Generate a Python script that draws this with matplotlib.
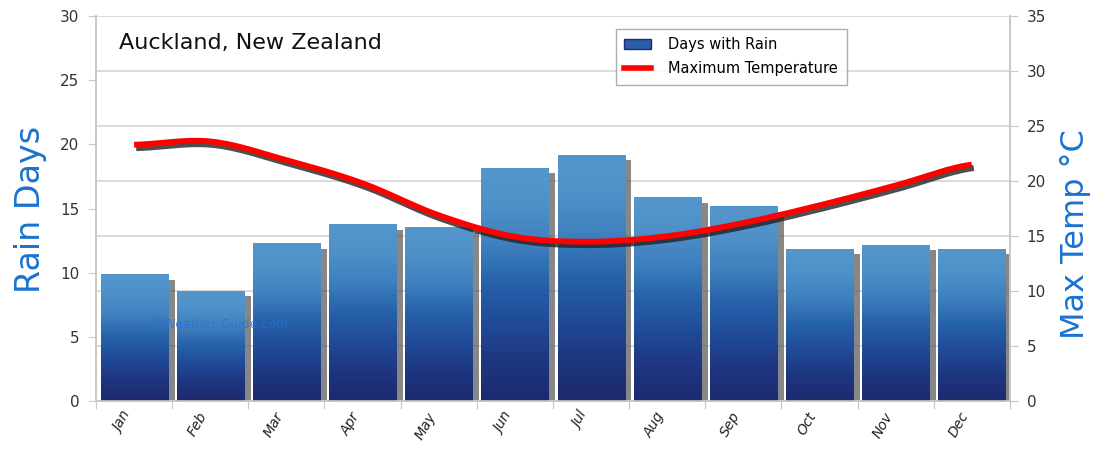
import numpy as np
import matplotlib
matplotlib.use("Agg")
import matplotlib.pyplot as plt
import matplotlib.patheffects as pe
from matplotlib.colors import LinearSegmentedColormap
from matplotlib.lines import Line2D
from matplotlib.patches import Patch

months = ["Jan", "Feb", "Mar", "Apr", "May", "Jun", "Jul", "Aug", "Sep", "Oct", "Nov", "Dec"]
rain_days = [9.9, 8.6, 12.3, 13.8, 13.55, 18.2, 19.2, 15.9, 15.2, 11.9, 12.2, 11.9]
max_temp = [23.3, 23.6, 21.9, 19.8, 16.9, 14.95, 14.5, 15.0, 16.2, 17.8, 19.6, 21.5]
left_ticks = [0, 5, 10, 15, 20, 25, 30]
right_ticks = [0, 5, 10, 15, 20, 25, 30, 35]

LEFT_MAX, RIGHT_MAX = 30, 35

fig = plt.figure(figsize=(11.09, 4.49), dpi=100)
ax = fig.add_axes([0.0866, 0.1058, 0.824, 0.859])
ax2 = ax.twinx()

x = np.arange(len(months))

# gridlines follow right axis, drawn behind bars on the left axes
for t in right_ticks[1:]:
    ax.axhline(t * LEFT_MAX / RIGHT_MAX, color="#d4d4d4", lw=1.2, zorder=0)

cmap = LinearSegmentedColormap.from_list(
    "rain", ["#1d2a6c", "#1e3680", "#204a98", "#2661aa", "#3e7fbe", "#4f90c8", "#5597cb"])

bars = ax.bar(x, rain_days, width=0.88, color="#2a5ea8", zorder=2,
              path_effects=[pe.SimplePatchShadow(offset=(5, -4), shadow_rgbFace="#555555", alpha=0.7),
                            pe.Normal()])
grad = np.linspace(0, 1, 256).reshape(-1, 1)
for b in bars:
    x0, w, h = b.get_x(), b.get_width(), b.get_height()
    im = ax.imshow(grad, cmap=cmap, origin="lower", aspect="auto",
                   extent=[x0, x0 + w, 0, h], zorder=3)
    im.set_clip_path(b)
ax.set_xlim(-0.5, len(months) - 0.5)
ax.set_ylim(0, LEFT_MAX)
ax2.set_ylim(0, RIGHT_MAX)

# smooth curve through temperatures (Catmull-Rom)
pts = np.array(max_temp, dtype=float)
xs, ys = [], []
n = len(pts)
for i in range(n - 1):
    p0 = pts[max(i - 1, 0)]
    p1 = pts[i]
    p2 = pts[i + 1]
    p3 = pts[min(i + 2, n - 1)]
    t = np.linspace(0, 1, 30, endpoint=(i == n - 2))
    yy = 0.5 * ((2 * p1) + (-p0 + p2) * t + (2 * p0 - 5 * p1 + 4 * p2 - p3) * t ** 2
                + (-p0 + 3 * p1 - 3 * p2 + p3) * t ** 3)
    xs.append(i + t)
    ys.append(yy)
xs = np.concatenate(xs)
ys = np.concatenate(ys)
ax2.plot(xs, ys, color="#ff0000", lw=4.2, solid_capstyle="butt", zorder=5,
         path_effects=[pe.SimpleLineShadow(offset=(1.5, -2.5), shadow_color="#222222", alpha=0.8),
                       pe.Normal()])
ax2.set_zorder(ax.get_zorder() + 1)
ax.patch.set_visible(True)
ax2.patch.set_visible(False)

# axes styling
for a in (ax, ax2):
    for s in a.spines.values():
        s.set_color("#c8c8c8")
        s.set_linewidth(1.2)
    a.spines["top"].set_visible(False)

ax.set_yticks(left_ticks)
ax.set_yticklabels([str(v) for v in left_ticks], fontsize=11, color="#333333", family="DejaVu Sans")
ax2.set_yticks(right_ticks)
ax2.set_yticklabels([str(v) for v in right_ticks], fontsize=11, color="#333333", family="DejaVu Sans")
ax.tick_params(axis="y", length=6, color="#c8c8c8", pad=6)
ax2.tick_params(axis="y", length=6, color="#c8c8c8", pad=6)

ax.set_xticks(np.arange(-0.5, len(months) + 0.5, 1), minor=False)
ax.set_xticklabels([])
ax.tick_params(axis="x", length=6, color="#c8c8c8")
ax.set_xticks(x, minor=True)
ax.set_xticklabels(months, minor=True, rotation=60, ha="right", va="top",
                   fontsize=10, color="#222222", style="italic", family="DejaVu Sans")
ax.tick_params(axis="x", which="minor", length=0, pad=6)
ax.set_xlim(-0.5, len(months) - 0.5)

ax.set_ylabel("Rain Days", fontsize=24, color="#1a73d0", family="DejaVu Sans")
ax.yaxis.set_label_coords(-0.054, 0.497)
ax2.set_ylabel("Max Temp °C", fontsize=23, color="#1a73d0", family="DejaVu Sans")
ax2.yaxis.set_label_coords(1.055, 0.434)

ax.text(0.025, 0.93, "Auckland, New Zealand", transform=ax.transAxes, fontsize=16,
        color="#111111", va="center", ha="left", family="DejaVu Sans", zorder=10)

ax.text(0.06, 0.19, "©Weather-Guide.com", transform=ax.transAxes, fontsize=9,
        color="#2a6fd8", alpha=0.75, zorder=6)

handles = [Patch(facecolor="#2a5ea8", edgecolor="#1d2b6e"),
           Line2D([0], [0], color="#ff0000", lw=4)]
leg = ax2.legend(handles, ["Days with Rain", "Maximum Temperature"],
                 loc="upper left", bbox_to_anchor=(0.5685, 0.967), fontsize=10.5,
                 frameon=True, fancybox=False, borderpad=0.6, labelspacing=0.6,
                 handlelength=1.8, handletextpad=1.2, borderaxespad=0)
leg.get_frame().set_edgecolor("#999999")
leg.get_frame().set_linewidth(1.0)

fig.savefig("out.png", dpi=100)
